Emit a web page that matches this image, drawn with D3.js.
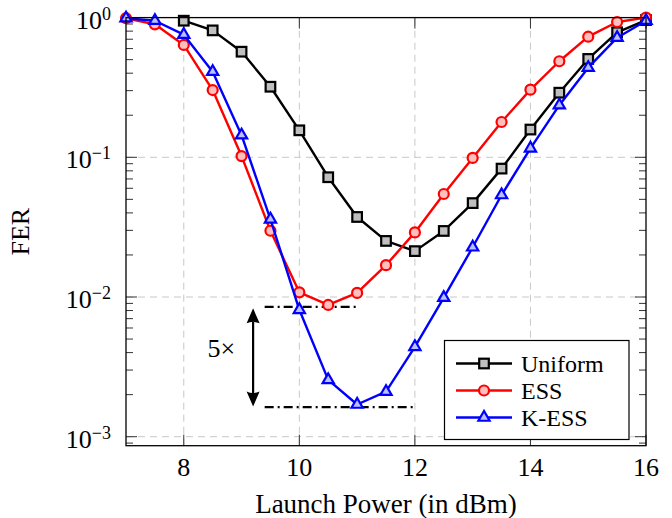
<!DOCTYPE html>
<html>
<head>
<meta charset="utf-8">
<script src="https://cdn.jsdelivr.net/npm/d3@7"></script>
<style>
  html, body { margin: 0; padding: 0; background: #fff; }
  svg { display: block; }
  text { font-family: "Liberation Serif", "DejaVu Serif", serif; fill: #000; }
</style>
</head>
<body>
<svg id="chart" width="672" height="518"></svg>
<script>
// ---------- data ----------
const uniformX = [8, 8.5, 9, 9.5, 10, 10.5, 11, 11.5, 12, 12.5, 13, 13.5, 14, 14.5, 15, 15.5, 16];
const uniformY = [0.95, 0.81, 0.57, 0.32, 0.156, 0.072, 0.0374, 0.0252, 0.0213, 0.0297, 0.047, 0.083, 0.158, 0.29, 0.506, 0.785, 0.96];
const essX = [7, 7.5, 8, 8.5, 9, 9.5, 10, 10.5, 11, 11.5, 12, 12.5, 13, 13.5, 14, 14.5, 15, 15.5, 16];
const essY = [0.99, 0.895, 0.637, 0.303, 0.102, 0.0298, 0.0108, 0.00877, 0.0107, 0.0169, 0.029, 0.0546, 0.099, 0.179, 0.305, 0.487, 0.73, 0.93, 1.0];
const kessX = [7, 7.5, 8, 8.5, 9, 9.5, 10, 10.5, 11, 11.5, 12, 12.5, 13, 13.5, 14, 14.5, 15, 15.5, 16];
const kessY = [0.99, 0.95, 0.755, 0.41, 0.144, 0.036, 0.0081, 0.00255, 0.0017, 0.0021, 0.0044, 0.0099, 0.0227, 0.0537, 0.116, 0.236, 0.438, 0.718, 0.95];
const seriesNames = ["Uniform", "ESS", "K-ESS"];
const xTicks = [8, 10, 12, 14, 16];
const yTickExps = [0, -1, -2, -3];
const xLabel = "Launch Power (in dBm)";
const yLabel = "FER";
// annotation (data coordinates)
const annUpper = { y: 0.0085, x0: 9.4, x1: 11 };
const annLower = { y: 0.00163, x0: 9.4, x1: 12 };
const annArrowX = 9.2;
const annText = "5×";
const annTextPos = { x: 8.65, y: 0.0037 };

// ---------- layout ----------
const L = 126, R = 646, T = 17.6, B = 445.7;
const svg = d3.select("#chart");
const x = d3.scaleLinear().domain([7, 16]).range([L, R]);
const y = d3.scaleLog().domain([Math.pow(10, -3.0644), 1]).range([B, T]);

// grid
const gridG = svg.append("g").attr("stroke", "#c8c8c8").attr("stroke-width", 1).attr("stroke-dasharray", "7,5");
xTicks.filter(t => t < 16).forEach(t => {
  gridG.append("line").attr("x1", x(t)).attr("x2", x(t)).attr("y1", B).attr("y2", T);
});
yTickExps.filter(e => e < 0).forEach(e => {
  gridG.append("line").attr("x1", L).attr("x2", R).attr("y1", y(Math.pow(10, e))).attr("y2", y(Math.pow(10, e)));
});

// ticks (inward, mirrored)
const tickG = svg.append("g").attr("stroke", "#333").attr("stroke-width", 1);
const majLen = 11, minLen = 7;
xTicks.forEach(t => {
  tickG.append("line").attr("x1", x(t)).attr("x2", x(t)).attr("y1", B).attr("y2", B - majLen);
  tickG.append("line").attr("x1", x(t)).attr("x2", x(t)).attr("y1", T).attr("y2", T + majLen);
});
const yDom = y.domain();
for (let e = -4; e <= 0; e++) {
  for (let m = 1; m <= 9; m++) {
    const v = m * Math.pow(10, e);
    if (v < yDom[0] - 1e-12 || v > yDom[1] + 1e-12) continue;
    const len = m === 1 ? majLen : minLen;
    const yy = y(v);
    tickG.append("line").attr("x1", L).attr("x2", L + len).attr("y1", yy).attr("y2", yy);
    tickG.append("line").attr("x1", R).attr("x2", R - len).attr("y1", yy).attr("y2", yy);
  }
}

// x tick labels
xTicks.forEach(t => {
  svg.append("text").attr("x", x(t)).attr("y", 476).attr("text-anchor", "middle")
    .attr("font-size", 26).text(t);
});
// y tick labels
yTickExps.forEach(e => {
  const t = svg.append("text").attr("x", 111).attr("y", y(Math.pow(10, e)) + 11)
    .attr("text-anchor", "end").attr("font-size", 26);
  t.append("tspan").text("10");
  t.append("tspan").attr("font-size", 18).attr("dy", -9).text(e === 0 ? "0" : "−" + Math.abs(e));
});

// axis labels
svg.append("text").attr("x", (L + R) / 2).attr("y", 513).attr("text-anchor", "middle")
  .attr("font-size", 27).text(xLabel);
svg.append("text").attr("transform", `translate(29,${(T + B) / 2}) rotate(-90)`)
  .attr("text-anchor", "middle").attr("font-size", 26).text(yLabel);

// annotation
const annG = svg.append("g");
[annUpper, annLower].forEach(a => {
  annG.append("line").attr("x1", x(a.x0)).attr("x2", x(a.x1)).attr("y1", y(a.y)).attr("y2", y(a.y))
    .attr("stroke", "#000").attr("stroke-width", 2.2).attr("stroke-dasharray", "9,4,2,4");
});
{
  const ax = x(annArrowX), yt = y(annUpper.y) + 1.5, yb = y(annLower.y) - 0.5;
  const hl = 15, hw = 6.5;
  annG.append("line").attr("x1", ax).attr("x2", ax).attr("y1", yt + hl - 2).attr("y2", yb - hl + 2)
    .attr("stroke", "#000").attr("stroke-width", 2.2);
  annG.append("path").attr("d", `M${ax},${yt} L${ax - hw},${yt + hl} Q${ax},${yt + hl - 3} ${ax + hw},${yt + hl} Z`).attr("fill", "#000");
  annG.append("path").attr("d", `M${ax},${yb} L${ax - hw},${yb - hl} Q${ax},${yb - hl + 3} ${ax + hw},${yb - hl} Z`).attr("fill", "#000");
  annG.append("text").attr("x", x(annTextPos.x)).attr("y", y(annTextPos.y)).attr("text-anchor", "middle")
    .attr("font-size", 26).text(annText);
}

// series
const series = [
  { name: seriesNames[0], xs: uniformX, ys: uniformY, color: "#000000", fill: "#bfbfbf", mark: "square" },
  { name: seriesNames[1], xs: essX, ys: essY, color: "#ff0000", fill: "#ffbfbf", mark: "circle" },
  { name: seriesNames[2], xs: kessX, ys: kessY, color: "#0000ff", fill: "#bfbfff", mark: "triangle" }
];
const line = d3.line().x(d => x(d[0])).y(d => y(d[1]));

function drawMark(g, mark, cx, cy, color, fill) {
  if (mark === "square") {
    const h = 4.8;
    g.append("rect").attr("x", cx - h).attr("y", cy - h).attr("width", 2 * h).attr("height", 2 * h)
      .attr("fill", fill).attr("stroke", color).attr("stroke-width", 2.2);
  } else if (mark === "circle") {
    g.append("circle").attr("cx", cx).attr("cy", cy).attr("r", 5)
      .attr("fill", fill).attr("stroke", color).attr("stroke-width", 2.2);
  } else {
    const r = 6.5;
    const pts = [[cx, cy - r], [cx - r * 0.866, cy + r / 2], [cx + r * 0.866, cy + r / 2]];
    g.append("path").attr("d", "M" + pts.map(p => p.join(",")).join("L") + "Z")
      .attr("fill", fill).attr("stroke", color).attr("stroke-width", 2.2).attr("stroke-linejoin", "miter");
  }
}

series.forEach(s => {
  const g = svg.append("g");
  const pts = s.xs.map((v, i) => [v, s.ys[i]]);
  g.append("path").attr("d", line(pts)).attr("fill", "none").attr("stroke", s.color)
    .attr("stroke-width", 2.4).attr("stroke-linejoin", "round");
  pts.forEach(p => drawMark(g, s.mark, x(p[0]), y(p[1]), s.color, s.fill));
});

// frame
svg.append("rect").attr("x", L).attr("y", T).attr("width", R - L).attr("height", B - T)
  .attr("fill", "none").attr("stroke", "#000").attr("stroke-width", 1.3);

// legend
const lg = svg.append("g");
lg.append("rect").attr("x", 444.5).attr("y", 340.5).attr("width", 184.5).attr("height", 99)
  .attr("fill", "#fff").attr("stroke", "#000").attr("stroke-width", 1.2);
const rowsY = [363.5, 390.5, 417.5];
series.forEach((s, i) => {
  const ry = rowsY[i];
  lg.append("line").attr("x1", 456).attr("x2", 512).attr("y1", ry).attr("y2", ry)
    .attr("stroke", s.color).attr("stroke-width", 2.4);
  drawMark(lg, s.mark, 484, ry, s.color, s.fill);
  lg.append("text").attr("x", 521).attr("y", ry + 8.5).attr("font-size", 24).text(s.name);
});
</script>
</body>
</html>
